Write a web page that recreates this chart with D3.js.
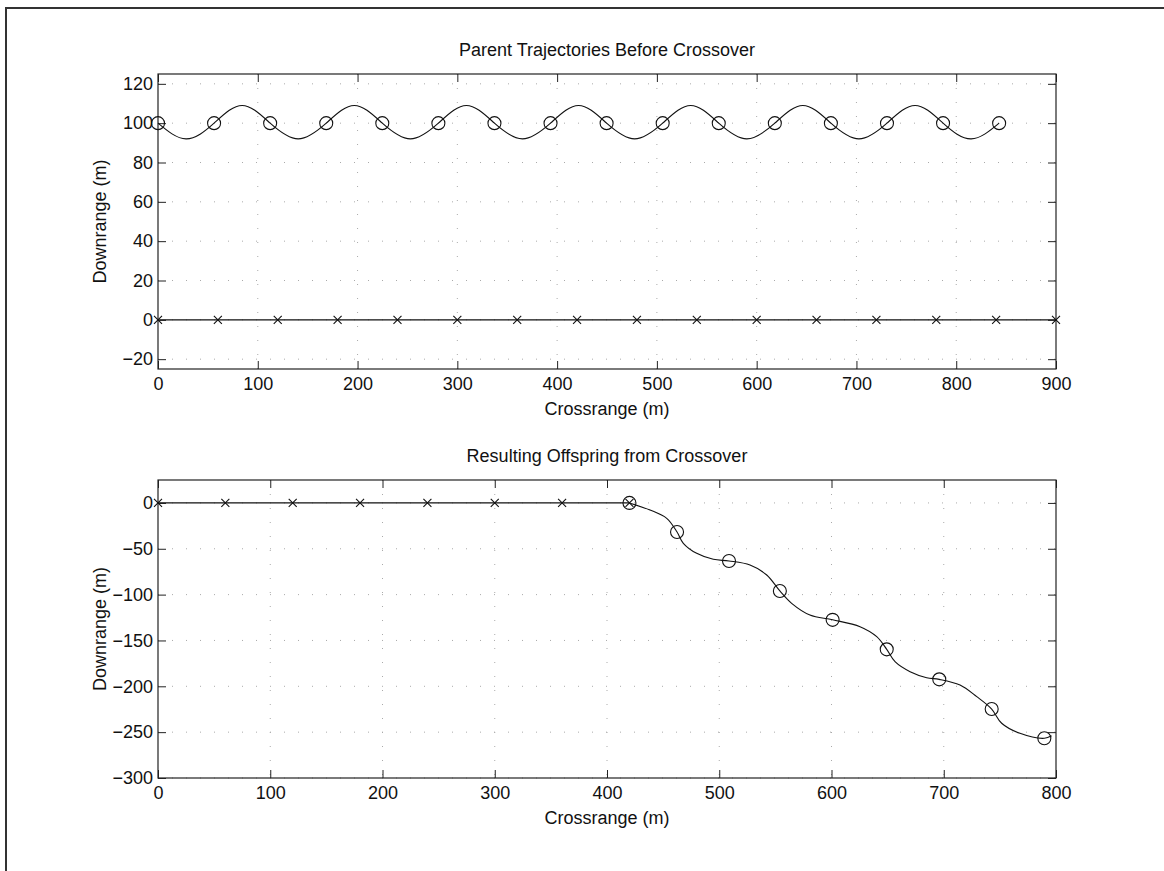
<!DOCTYPE html>
<html>
<head>
<meta charset="utf-8">
<script src="https://cdn.jsdelivr.net/npm/d3@7"></script>
<style>
  body { margin: 0; background: #fff; }
  svg { display: block; font-family: "Liberation Sans", Arial, Helvetica, sans-serif; }
  .axis text { font-size: 18px; fill: #111; }
  .axis path { display: none; }
  .axis line { stroke: #222; }
  .grid line { stroke: #aaa; stroke-dasharray: 1, 13; }
  .title, .label { font-size: 18px; fill: #111; }
</style>
</head>
<body>
<div class="figure"></div>
<script>
// parent 1: weaving path, read at quarter-period points (circles on even indices)
const waveX = [0, 28.1, 56.2, 84.3, 112.4, 140.5, 168.6, 196.7, 224.8, 252.9, 281, 309.1, 337.2, 365.3, 393.4, 421.5,
  449.6, 477.7, 505.8, 533.9, 562, 590.1, 618.2, 646.3, 674.4, 702.5, 730.6, 758.7, 786.8, 814.9, 843]
const waveY = [100, 92, 100, 109, 100, 92, 100, 109, 100, 92, 100, 109, 100, 92, 100, 109,
  100, 92, 100, 109, 100, 92, 100, 109, 100, 92, 100, 109, 100, 92, 100]

// parent 2: straight path along zero
const straightX = [0, 60, 120, 180, 240, 300, 360, 420, 480, 540, 600, 660, 720, 780, 840, 900]
const straightY = [0, 0, 0, 0, 0, 0, 0, 0, 0, 0, 0, 0, 0, 0, 0, 0]

// offspring: first part of parent 2, then a rotated weave
const childLineX = [0, 60, 120, 180, 240, 300, 360, 420]
const childLineY = [0, 0, 0, 0, 0, 0, 0, 0]

const childCurveX = [420, 438.3, 453.2, 462.4, 468, 479.9, 494.7, 508.7, 527.4, 542.3, 554, 564.5, 580.8, 601,
  625.4, 640.3, 649.2, 656.6, 670, 684.8, 696, 714.5, 729.4, 742.7, 751.6, 767.9, 789.6, 796]
const childCurveY = [0, -7.7, -16.8, -31.7, -44, -55, -61.5, -63.3, -67.7, -78.6, -96, -109.5, -122.3, -127.5,
  -135, -145.9, -159.7, -173.2, -184.1, -190.6, -192.4, -198.6, -211.3, -224.8, -240.3, -251.3, -256.7, -254]
const childCircleIdx = [0, 3, 7, 10, 13, 16, 20, 23, 26]

const topXTicks = [0, 100, 200, 300, 400, 500, 600, 700, 800, 900]
const topYTicks = [-20, 0, 20, 40, 60, 80, 100, 120]
const botXTicks = [0, 100, 200, 300, 400, 500, 600, 700, 800]
const botYTicks = [-300, -250, -200, -150, -100, -50, 0]

const width = 1164
const height = 871
const left = 158
const right = 1056

const $fig = d3.select('.figure')
const svg = $fig.append('svg')
  .attr('width', width)
  .attr('height', height)

// page frame (top and left edges only)
svg.append('path')
  .attr('d', 'M6,' + height + 'V8H' + width)
  .attr('fill', 'none')
  .attr('stroke', '#333')
  .attr('stroke-width', 2)

function setupPanel(opt) {
  let x = d3.scaleLinear().domain(opt.xDomain).range([left, right])
  let y = d3.scaleLinear().domain(opt.yDomain).range([opt.bottom, opt.top])
  let g = svg.append('g')

  // dotted grid
  g.append('g').attr('class', 'grid')
    .selectAll('line.v').data(opt.xTicks.slice(1, -1)).join('line')
    .attr('x1', d => x(d)).attr('x2', d => x(d))
    .attr('y1', opt.top).attr('y2', opt.bottom)
  g.append('g').attr('class', 'grid')
    .selectAll('line.h').data(opt.yTicks).join('line')
    .attr('x1', left).attr('x2', right)
    .attr('y1', d => y(d)).attr('y2', d => y(d))

  g.append('g').attr('class', 'axis')
    .attr('transform', 'translate(0,' + opt.bottom + ')')
    .call(d3.axisBottom(x).tickValues(opt.xTicks).tickSize(-8).tickSizeOuter(0).tickPadding(8))
  g.append('g').attr('class', 'axis')
    .attr('transform', 'translate(0,' + opt.top + ')')
    .call(d3.axisTop(x).tickValues(opt.xTicks).tickSize(-8).tickSizeOuter(0).tickFormat(''))
  g.append('g').attr('class', 'axis')
    .attr('transform', 'translate(' + left + ',0)')
    .call(d3.axisLeft(y).tickValues(opt.yTicks).tickSize(-8).tickSizeOuter(0).tickPadding(5))
  g.append('g').attr('class', 'axis')
    .attr('transform', 'translate(' + right + ',0)')
    .call(d3.axisRight(y).tickValues(opt.yTicks).tickSize(-8).tickSizeOuter(0).tickFormat(''))

  g.append('rect')
    .attr('x', left).attr('y', opt.top)
    .attr('width', right - left).attr('height', opt.bottom - opt.top)
    .attr('fill', 'none').attr('stroke', '#222').attr('stroke-width', 1.2)

  g.append('text').attr('class', 'title')
    .attr('x', (left + right) / 2).attr('y', opt.top - 18)
    .attr('text-anchor', 'middle').text(opt.title)
  g.append('text').attr('class', 'label')
    .attr('x', (left + right) / 2).attr('y', opt.bottom + 46)
    .attr('text-anchor', 'middle').text('Crossrange (m)')
  g.append('text').attr('class', 'label')
    .attr('transform', 'translate(106,' + (opt.top + opt.bottom) / 2 + ') rotate(-90)')
    .attr('text-anchor', 'middle').text('Downrange (m)')

  return { g, x, y }
}

function drawSeries(panel, xs, ys, curve, marker, idx) {
  let pts = xs.map((d, i) => [d, ys[i]])
  let line = d3.line().x(d => panel.x(d[0])).y(d => panel.y(d[1])).curve(curve)
  panel.g.append('path')
    .attr('d', line(pts))
    .attr('fill', 'none').attr('stroke', '#111').attr('stroke-width', 1.1)

  let marks = idx ? idx.map(i => pts[i]) : pts
  if (marker === 'o') {
    panel.g.append('g').selectAll('circle').data(marks).join('circle')
      .attr('cx', d => panel.x(d[0])).attr('cy', d => panel.y(d[1]))
      .attr('r', 6.5).attr('fill', 'none').attr('stroke', '#111').attr('stroke-width', 1.1)
  } else {
    let s = 4
    panel.g.append('g').selectAll('path').data(marks).join('path')
      .attr('d', d => {
        let cx = panel.x(d[0]), cy = panel.y(d[1])
        return 'M' + (cx - s) + ',' + (cy - s) + 'L' + (cx + s) + ',' + (cy + s) +
          'M' + (cx - s) + ',' + (cy + s) + 'L' + (cx + s) + ',' + (cy - s)
      })
      .attr('stroke', '#111').attr('stroke-width', 1.1)
  }
}

let topPanel = setupPanel({
  xDomain: [0, 900], yDomain: [-25, 125], top: 74, bottom: 369,
  xTicks: topXTicks, yTicks: topYTicks, title: 'Parent Trajectories Before Crossover'
})
let botPanel = setupPanel({
  xDomain: [0, 800], yDomain: [-300, 25], top: 480, bottom: 778,
  xTicks: botXTicks, yTicks: botYTicks, title: 'Resulting Offspring from Crossover'
})

drawSeries(topPanel, waveX, waveY, d3.curveNatural, 'o', waveX.map((d, i) => i).filter(i => i % 2 === 0))
drawSeries(topPanel, straightX, straightY, d3.curveLinear, 'x')
drawSeries(botPanel, childLineX, childLineY, d3.curveLinear, 'x')
drawSeries(botPanel, childCurveX, childCurveY, d3.curveCatmullRom, 'o', childCircleIdx)
</script>
</body>
</html>
